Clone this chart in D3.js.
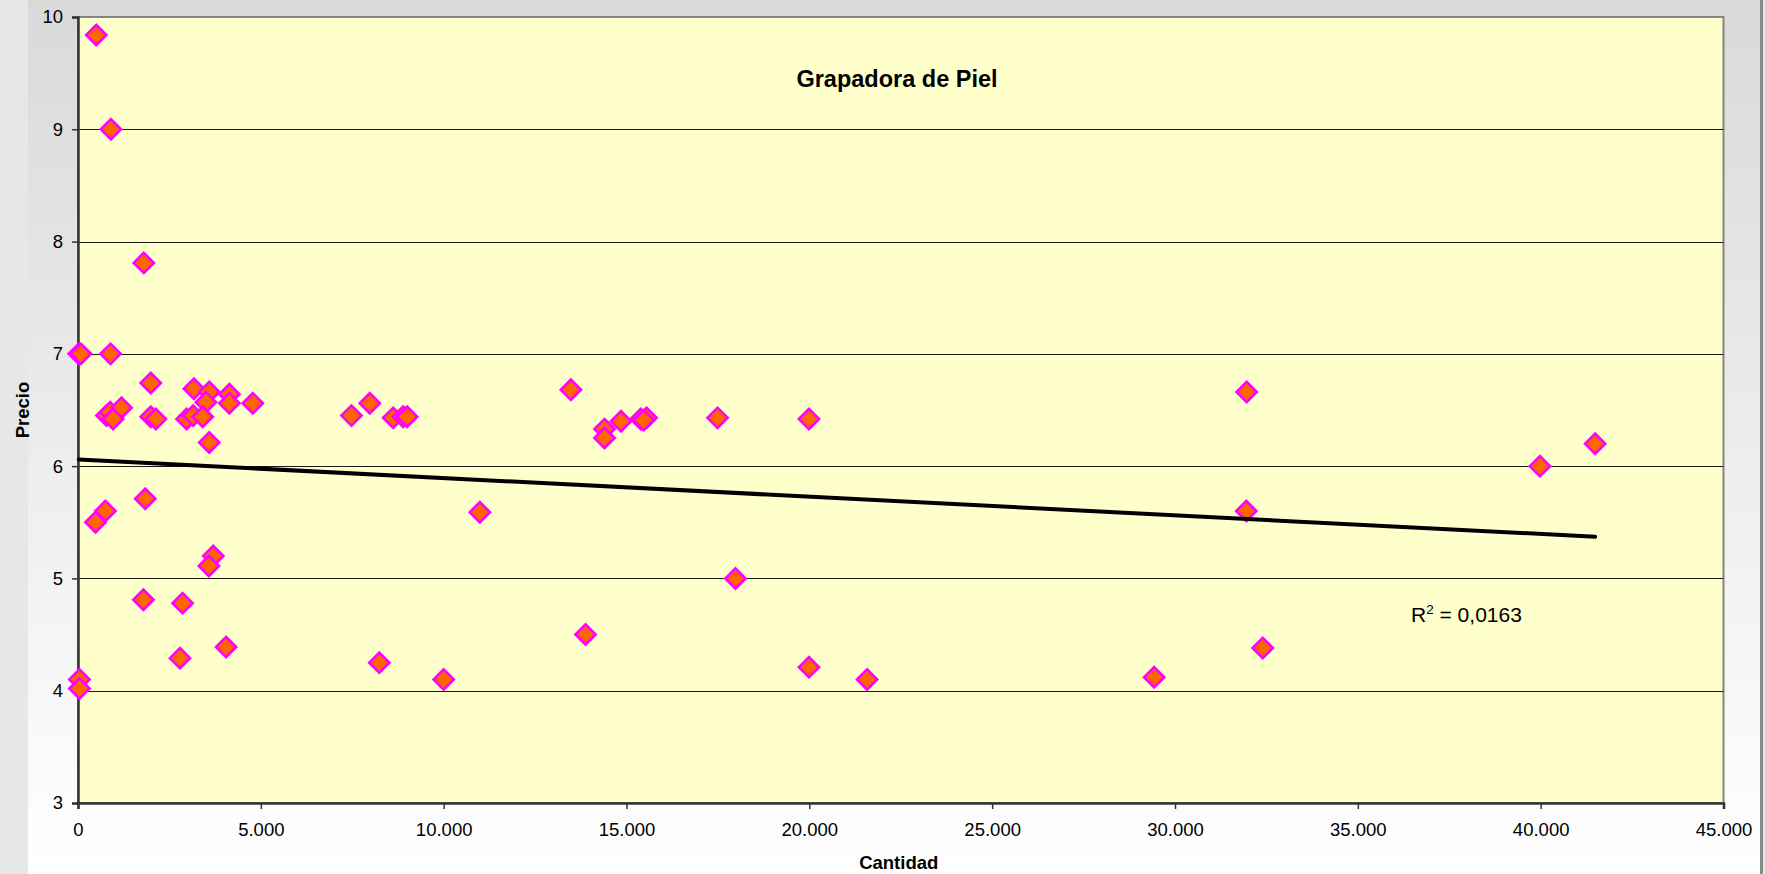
<!DOCTYPE html>
<html>
<head>
<meta charset="utf-8">
<script src="https://cdn.jsdelivr.net/npm/d3@7"></script>
<style>
  html, body { margin: 0; padding: 0; background: #ffffff; }
  svg { display: block; font-family: "Liberation Sans", Arial, sans-serif; }
</style>
</head>
<body>
<svg id="chart" width="1765" height="874"></svg>
<script>
// ---- Data ----
const cantidad = [
  500, 900, 1800, 20, 80, 890, 1990, 780, 880, 1190,
  960, 1990, 2130, 3170, 3590, 4140, 3500, 4140, 4780, 2970,
  3150, 3410, 3590, 480, 750, 1840, 3700, 3580, 1790, 2860,
  2790, 4050, 40, 40, 8240, 7480, 7980, 8620, 8890, 9000,
  10000, 10990, 13480, 13880, 14400, 14400, 14850, 15390, 15550, 15470,
  17490, 17980, 19990, 19990, 21580, 29430, 31960, 31950, 32400, 39980,
  41490
];
const precio = [
  9.84, 9.00, 7.81, 7.00, 7.00, 7.00, 6.74, 6.45, 6.48, 6.52,
  6.42, 6.44, 6.42, 6.69, 6.66, 6.64, 6.57, 6.56, 6.56, 6.42,
  6.45, 6.44, 6.21, 5.50, 5.60, 5.71, 5.20, 5.11, 4.81, 4.78,
  4.29, 4.39, 4.10, 4.02, 4.25, 6.45, 6.56, 6.43, 6.44, 6.44,
  4.10, 5.59, 6.68, 4.50, 6.33, 6.25, 6.40, 6.42, 6.43, 6.41,
  6.43, 5.00, 6.42, 4.21, 4.10, 4.12, 6.66, 5.60, 4.38, 6.00,
  6.20
];
const xTicks = [0, 5000, 10000, 15000, 20000, 25000, 30000, 35000, 40000, 45000];
const yTicks = [3, 4, 5, 6, 7, 8, 9, 10];
const trendIntercept = 6.06;
const trendSlope = -0.0000166;
const r2Label = "0,0163";
const chartTitle = "Grapadora de Piel";
const xTitle = "Cantidad";
const yTitle = "Precio";

// ---- Layout ----
const W = 1765, H = 874;
const plot = { left: 78, right: 1723.5, top: 17, bottom: 803 };

const svg = d3.select("#chart");
const locale = d3.formatLocale({ decimal: ",", thousands: ".", grouping: [3], currency: ["", ""] });
const fmt = locale.format(",.0f");

// background
const defs = svg.append("defs");
const g1 = defs.append("linearGradient").attr("id", "bg").attr("x1", 0).attr("y1", 0).attr("x2", 0).attr("y2", 1);
g1.append("stop").attr("offset", "0%").attr("stop-color", "#d9d9d9");
g1.append("stop").attr("offset", "100%").attr("stop-color", "#ffffff");

svg.append("rect").attr("x", 0).attr("y", 0).attr("width", W).attr("height", H).attr("fill", "#e7e7e7");
svg.append("rect").attr("x", 28).attr("y", 0).attr("width", 1733).attr("height", H).attr("fill", "url(#bg)");
svg.append("line").attr("x1", 1761.5).attr("x2", 1761.5).attr("y1", 0).attr("y2", H)
  .attr("stroke", "#8a8a8a").attr("stroke-width", 3);

const x = d3.scaleLinear().domain([0, 45000]).range([plot.left, plot.right]);
const y = d3.scaleLinear().domain([3, 10]).range([plot.bottom, plot.top]);

// plot area
svg.append("rect")
  .attr("x", plot.left).attr("y", plot.top)
  .attr("width", plot.right - plot.left).attr("height", plot.bottom - plot.top)
  .attr("fill", "#ffffcc").attr("stroke", "#848484").attr("stroke-width", 2);

// gridlines
svg.append("g").selectAll("line")
  .data(yTicks.filter(v => v > 3 && v < 10))
  .join("line")
  .attr("x1", plot.left).attr("x2", plot.right)
  .attr("y1", d => Math.round(y(d)) + 0.5).attr("y2", d => Math.round(y(d)) + 0.5)
  .attr("stroke", "#1a1a1a").attr("stroke-width", 1.2);

// axes
const yAxis = d3.axisLeft(y).tickValues(yTicks).tickSize(6).tickPadding(9).tickFormat(d3.format("d"));
const gy = svg.append("g").attr("transform", `translate(${plot.left},0)`).call(yAxis);
gy.select(".domain").attr("stroke", "#333").attr("stroke-width", 2.5);
gy.selectAll(".tick line").attr("stroke", "#333").attr("stroke-width", 1.5);
gy.selectAll("text").attr("font-size", 18.5).attr("fill", "#000").attr("font-family", "'Liberation Sans', Arial, sans-serif");

const xAxis = d3.axisBottom(x).tickValues(xTicks).tickSize(6).tickPadding(14).tickFormat(fmt);
const gx = svg.append("g").attr("transform", `translate(0,${plot.bottom})`).call(xAxis);
gx.select(".domain").attr("stroke", "#333").attr("stroke-width", 2.5);
gx.selectAll(".tick line").attr("stroke", "#333").attr("stroke-width", 1.5);
gx.selectAll("text").attr("font-size", 18.5).attr("fill", "#000").attr("font-family", "'Liberation Sans', Arial, sans-serif");

// points
const pts = cantidad.map((c, i) => ({ c, p: precio[i] }));
const sym = d3.symbol().type(d3.symbolSquare).size(205);
svg.append("g").selectAll("path")
  .data(pts)
  .join("path")
  .attr("d", sym)
  .attr("transform", d => `translate(${x(d.c)},${y(d.p)}) rotate(45)`)
  .attr("fill", "#ff6600")
  .attr("stroke", "#ff00ff")
  .attr("stroke-width", 2.6);

// trendline
const xs = d3.extent(cantidad);
const trend = xs.map(v => [v, trendIntercept + trendSlope * v]);
svg.append("path")
  .datum(trend)
  .attr("d", d3.line().x(d => x(d[0])).y(d => y(d[1])))
  .attr("stroke", "#000").attr("stroke-width", 4).attr("fill", "none").attr("stroke-linecap", "round");

// title
svg.append("text").attr("x", 897).attr("y", 86.5).attr("text-anchor", "middle")
  .attr("font-size", 23.5).attr("font-weight", "bold").attr("fill", "#000").text(chartTitle);

// R² label
const rt = svg.append("text").attr("x", 1411).attr("y", 621.5).attr("font-size", 21).attr("fill", "#000");
rt.append("tspan").text("R");
rt.append("tspan").attr("dy", -8).attr("font-size", 13.5).text("2");
rt.append("tspan").attr("dy", 8).text(" = " + r2Label);

// axis titles
svg.append("text").attr("x", plot.left + (plot.right - plot.left) / 2 - 2).attr("y", 869).attr("text-anchor", "middle")
  .attr("font-size", 18.5).attr("font-weight", "bold").attr("fill", "#000").text(xTitle);
svg.append("text").attr("transform", "translate(28.5,410) rotate(-90)").attr("text-anchor", "middle")
  .attr("font-size", 18.5).attr("font-weight", "bold").attr("fill", "#000").text(yTitle);
</script>
</body>
</html>
